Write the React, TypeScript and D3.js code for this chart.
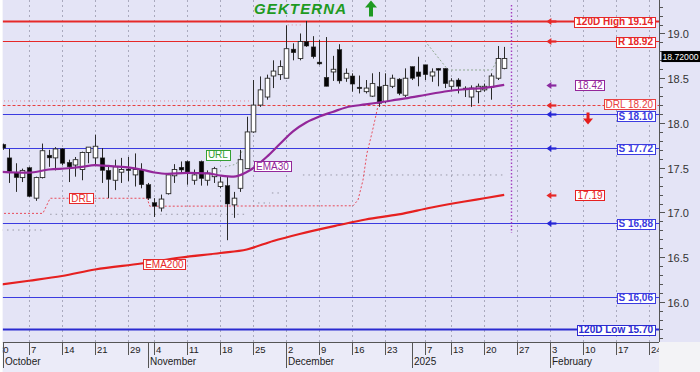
import React, { useEffect, useRef } from "react";
import * as d3 from "d3";

// ---------- data ----------
const weekTickIdx = [0, 5, 10, 15, 20, 24, 29, 34, 39, 44, 49, 54, 59, 65, 69, 74, 79, 84, 89, 94, 99];
const weekTickLabels = ["30", "7", "14", "21", "29", "4", "11", "18", "25", "2", "9", "16", "23", "7", "13", "20", "27", "3", "10", "17", "24"];
const monthStartIdx = [1, 23, 44, 63, 84];
const monthLabels = ["October", "November", "December", "2025", "February"];

const firstCandleIdx = 1;
const opens = [17.76, 17.61, 17.45, 17.39, 17.5, 17.16, 17.39, 17.64, 17.61, 17.71, 17.56, 17.53, 17.48, 17.67, 17.61, 17.61, 17.47, 17.36, 17.45, 17.485, 17.42, 17.475, 17.31, 17.11, 17.05, 17.21, 17.41, 17.505, 17.57, 17.36, 17.57, 17.36, 17.4, 17.29, 17.3, 17.085, 17.27, 17.49, 17.9, 18.2, 18.29, 18.525, 18.54, 18.5, 18.825, 18.72, 18.91, 18.85, 18.68, 18.51, 18.57, 18.82, 18.5, 18.525, 18.4, 18.35, 18.3, 18.405, 18.24, 18.41, 18.49, 18.31, 18.63, 18.57, 18.65, 18.525, 18.61, 18.61, 18.41, 18.48, 18.39, 18.29, 18.35, 18.37, 18.4, 18.5, 18.61];
const highs = [17.77, 17.71, 17.55, 17.49, 17.51, 17.4, 17.77, 17.7, 17.73, 17.72, 17.59, 17.62, 17.68, 17.73, 17.87, 17.72, 17.51, 17.59, 17.61, 17.62, 17.66, 17.55, 17.33, 17.16, 17.2, 17.44, 17.54, 17.57, 17.58, 17.48, 17.58, 17.47, 17.51, 17.4, 17.4, 17.23, 17.7, 18.07, 18.48, 18.52, 18.54, 18.7, 18.7, 19.09, 18.89, 19.0, 19.14, 18.97, 18.93, 18.96, 18.75, 18.88, 18.61, 18.555, 18.53, 18.48, 18.555, 18.57, 18.555, 18.54, 18.5, 18.61, 18.63, 18.74, 18.65, 18.61, 18.61, 18.61, 18.5, 18.5, 18.41, 18.42, 18.44, 18.44, 18.555, 18.86, 18.85];
const lows = [17.7, 17.33, 17.23, 17.34, 17.17, 17.13, 17.38, 17.51, 17.47, 17.53, 17.34, 17.4, 17.36, 17.55, 17.53, 17.33, 17.16, 17.25, 17.33, 17.35, 17.29, 17.27, 17.14, 16.95, 17.01, 17.2, 17.33, 17.44, 17.31, 17.31, 17.3, 17.3, 17.33, 17.27, 16.69, 16.94, 17.23, 17.49, 17.89, 18.18, 18.26, 18.39, 18.48, 18.5, 18.7, 18.7, 18.85, 18.72, 18.65, 18.41, 18.47, 18.44, 18.46, 18.35, 18.33, 18.33, 18.29, 18.18, 18.22, 18.39, 18.31, 18.29, 18.48, 18.41, 18.48, 18.46, 18.41, 18.39, 18.37, 18.33, 18.29, 18.18, 18.22, 18.35, 18.26, 18.48, 18.6];
const closes = [17.72, 17.46, 17.39, 17.47, 17.18, 17.39, 17.69, 17.61, 17.71, 17.55, 17.51, 17.59, 17.67, 17.73, 17.74, 17.47, 17.37, 17.51, 17.48, 17.48, 17.48, 17.31, 17.16, 17.07, 17.15, 17.42, 17.48, 17.475, 17.44, 17.42, 17.38, 17.44, 17.49, 17.34, 17.095, 17.16, 17.59, 17.9, 18.2, 18.37, 18.5, 18.58, 18.63, 18.83, 18.785, 18.91, 18.86, 18.74, 18.66, 18.41, 18.6, 18.47, 18.555, 18.435, 18.39, 18.39, 18.44, 18.22, 18.42, 18.5, 18.33, 18.5, 18.5, 18.52, 18.54, 18.57, 18.59, 18.44, 18.47, 18.41, 18.37, 18.39, 18.41, 18.41, 18.525, 18.72, 18.72];

const ema30Idx = [0, 3, 5, 8, 11, 13, 15, 17, 20, 22, 24, 26, 29, 32, 34, 36, 38, 39, 40, 41, 43, 45, 47, 49, 51, 53, 56, 59, 62, 65, 68, 71, 74, 77];
const ema30Val = [17.458, 17.447, 17.445, 17.48, 17.494, 17.51, 17.53, 17.52, 17.503, 17.48, 17.447, 17.432, 17.443, 17.438, 17.413, 17.4, 17.453, 17.497, 17.556, 17.62, 17.765, 17.907, 18.006, 18.073, 18.123, 18.173, 18.207, 18.24, 18.274, 18.313, 18.352, 18.377, 18.391, 18.425];

const ema200Idx = [0, 5, 10, 15, 22, 28, 34, 38, 42, 46, 52, 56, 61, 66, 71, 74, 77];
const ema200Val = [16.188, 16.237, 16.29, 16.363, 16.43, 16.497, 16.547, 16.587, 16.682, 16.76, 16.86, 16.922, 16.978, 17.056, 17.123, 17.159, 17.196];

const drlStepIdx = [0, 7.1, 8.2, 22.9, 23.3, 54.1, 54.85, 55.6, 56.2, 56.97, 57.4, 57.9];
const drlStepVal = [16.99, 16.99, 17.159, 17.159, 17.07, 17.075, 17.14, 17.36, 17.66, 17.89, 18.03, 18.2];

const trailIdx = [0, 7.1, NaN, 8.2, 38.2, NaN, 39.7, 41.5, NaN, 41.8, 43.3, NaN, 46.5, 77.3];
const trailVal = [16.804, 16.804, NaN, 16.98, 16.98, NaN, 17.106, 17.106, NaN, 17.218, 17.218, NaN, 17.419, 17.419];

const urlIdx = [65, 68.5, 75.15, 75.9];
const urlVal = [18.916, 18.592, 18.592, 18.7];
const urlNearIdx = [34.7, 36.4, 37.3];
const urlNearVal = [17.51, 17.54, 17.69];

const priorIdx = [0, 38.5, NaN, 44.2, 46.4];
const priorVal = [18.246, 18.246, NaN, 19.095, 19.095];

const levelValues = [19.14, 18.92, 18.2, 18.1, 17.72, 16.88, 16.06, 15.7];
const levelLabels = ["120D High 19.14", "R 18.92", "DRL 18.20", "S 18.10", "S 17.72", "S 16,88", "S 16,06", "120D Low 15.70"];
const levelKinds = ["high", "res", "drl", "sup", "sup", "sup", "sup", "low"];

const floatValues = [18.42, 17.19];
const floatLabels = ["18.42", "17.19"];
const floatKinds = ["ema30", "ema200"];

const arrowValues = [19.14, 18.92, 18.42, 18.2, 18.1, 17.72, 17.19, 16.88];
const arrowKinds = ["res", "res", "ema30", "res", "sup", "sup", "res", "sup"];

const annIdx = [39.1, 31.8, 11.1, 22.3];
const annVal = [17.517, 17.646, 17.159, 16.42];
const annText = ["EMA30", "URL", "DRL", "EMA200"];
const annKinds = ["ema30", "url", "res", "res"];

const lastPrice = 18.72;
const lastPriceLabel = "18.72000";
const todayIdx = 78;
const arrowIdx = 84;
const downArrowIdx = 89.7;
const downArrowVal = 18.05;
const titleText = "GEKTERNA";

// ---------- styles ----------
const COLORS: Record<string, string> = {
  res: "#e62828",
  high: "#e62828",
  drl: "#e84040",
  sup: "#3b3be0",
  low: "#2a2ad0",
  ema30: "#93279a",
  ema200: "#e62020",
  url: "#34a034",
};
const FONT = "'Liberation Sans', Arial, sans-serif";

export default function App() {
  const ref = useRef<SVGSVGElement>(null);
  useEffect(() => {
    const svg = d3.select(ref.current!);
    svg.selectAll("*").remove();
    const X0 = 2.5, X1 = 659, Y1 = 342;
    const xs = d3.scaleLinear().domain([0, 99]).range([-4, 649.4]);
    const ys = d3.scaleLinear().domain([15.553, 19.374]).range([Y1, 0]);

    svg.append("rect").attr("width", 700).attr("height", 372).attr("fill", "#f3f3f6");
    svg.append("rect").attr("x", X0).attr("y", 0).attr("width", 700 - X0).attr("height", Y1).attr("fill", "#e4e4f6");
    svg.append("rect").attr("x", X0).attr("y", Y1).attr("width", X1 - X0).attr("height", 372 - Y1).attr("fill", "#ebebf8");

    const defs = svg.append("defs");
    defs.append("clipPath").attr("id", "plotclip").append("rect").attr("x", X0).attr("y", 0).attr("width", X1 - X0).attr("height", Y1);
    defs.append("clipPath").attr("id", "axclip").append("rect").attr("x", X0).attr("y", Y1).attr("width", X1 - X0).attr("height", 372 - Y1);

    const plot = svg.append("g").attr("clip-path", "url(#plotclip)");

    // vertical gridlines
    weekTickIdx.forEach((i) => {
      const x = Math.round(xs(i)) + 0.5;
      plot.append("line").attr("x1", x).attr("x2", x).attr("y1", 0).attr("y2", Y1)
        .attr("stroke", "#a9a9bd").attr("stroke-width", 1).attr("stroke-dasharray", "2,3");
    });

    const mkLine = (curve: any) => d3.line<[number, number]>()
      .defined((d) => !isNaN(d[0]))
      .x((d) => xs(d[0])).y((d) => ys(d[1])).curve(curve);
    const zip = (a: number[], b: number[]) => a.map((v, k) => [v, b[k]] as [number, number]);

    // prior dotted lines
    plot.append("path").attr("d", mkLine(d3.curveLinear)(zip(priorIdx, priorVal))!).attr("fill", "none")
      .attr("stroke", "#e58a9a").attr("stroke-width", 1).attr("stroke-dasharray", "1,3");
    plot.append("path").attr("d", mkLine(d3.curveLinear)(zip(trailIdx, trailVal))!).attr("fill", "none")
      .attr("stroke", "#9a9aa8").attr("stroke-width", 1).attr("stroke-dasharray", "1.5,4");
    plot.append("path").attr("d", mkLine(d3.curveLinear)(zip(urlIdx, urlVal))!).attr("fill", "none")
      .attr("stroke", "#8fa890").attr("stroke-width", 1).attr("stroke-dasharray", "2,2");
    plot.append("path").attr("d", mkLine(d3.curveLinear)(zip(urlNearIdx, urlNearVal))!).attr("fill", "none")
      .attr("stroke", "#8fa890").attr("stroke-width", 1).attr("stroke-dasharray", "1.5,2.5");
    plot.append("path").attr("d", mkLine(d3.curveLinear)(zip(drlStepIdx, drlStepVal))!).attr("fill", "none")
      .attr("stroke", "#e84a5a").attr("stroke-width", 1).attr("stroke-dasharray", "2,2");

    // level lines
    levelValues.forEach((v, k) => {
      const kind = levelKinds[k];
      const y = Math.round(ys(v)) + 0.5;
      const ln = plot.append("line").attr("x1", X0).attr("x2", X1).attr("y1", y).attr("y2", y)
        .attr("stroke", COLORS[kind]).attr("stroke-width", kind === "high" || kind === "low" ? 2 : 1.2);
      if (kind === "drl") ln.attr("stroke-dasharray", "3,2");
    });

    // EMA200
    plot.append("path").attr("d", mkLine(d3.curveMonotoneX)(zip(ema200Idx, ema200Val))!).attr("fill", "none")
      .attr("stroke", COLORS.ema200).attr("stroke-width", 2.2);

    // candles
    const bw = 4.6;
    opens.forEach((o, k) => {
      const i = firstCandleIdx + k;
      const c = closes[k];
      const x = xs(i);
      const xc = Math.round(x) + 0.5;
      plot.append("line").attr("x1", xc).attr("x2", xc).attr("y1", ys(highs[k])).attr("y2", ys(lows[k]))
        .attr("stroke", "#2a2a2a").attr("stroke-width", 1);
      const top = ys(Math.max(o, c));
      const h = Math.max(1.5, Math.abs(ys(o) - ys(c)));
      const up = c >= o;
      plot.append("rect").attr("x", xc - bw / 2).attr("y", top).attr("width", bw).attr("height", h)
        .attr("fill", up ? "#ffffff" : "#050505").attr("stroke", "#2a2a2a").attr("stroke-width", up ? 0.9 : 0.5);
    });

    // EMA30
    plot.append("path").attr("d", mkLine(d3.curveMonotoneX)(zip(ema30Idx, ema30Val))!).attr("fill", "none")
      .attr("stroke", COLORS.ema30).attr("stroke-width", 2.2);

    // today dotted vertical
    const tx = Math.round(xs(todayIdx)) + 0.5;
    plot.append("line").attr("x1", tx).attr("x2", tx).attr("y1", 5).attr("y2", 233)
      .attr("stroke", "#a33fbf").attr("stroke-width", 1.4).attr("stroke-dasharray", "1.5,2");

    // label box helper
    const labelBox = (txt: string, xPos: number, yc: number, color: string, bold: boolean, anchor: "end" | "middle" | "start", fs = 10) => {
      const g = plot.append("g");
      const rect = g.append("rect");
      const t = g.append("text").text(txt).attr("font-family", FONT).attr("font-size", fs)
        .attr("font-weight", bold ? "bold" : "normal").attr("fill", color).attr("y", yc + fs * 0.35);
      const w = (t.node() as SVGTextElement).getComputedTextLength();
      const bwid = w + 4;
      let bx = xPos;
      if (anchor === "end") bx = xPos - bwid;
      if (anchor === "middle") bx = xPos - bwid / 2;
      t.attr("x", bx + 2);
      rect.attr("x", Math.round(bx) + 0.5).attr("y", Math.round(yc - 5) + 0.5).attr("width", Math.round(bwid)).attr("height", 10)
        .attr("fill", "#ffffff").attr("stroke", color).attr("stroke-width", 1);
    };

    levelValues.forEach((v, k) => {
      const kind = levelKinds[k];
      let yc = Math.round(ys(v)) + 0.5;
      if (kind === "drl") yc -= 1.5;
      if (k === 3) yc += 1.5;
      labelBox(levelLabels[k], 655, yc, COLORS[kind], kind !== "drl", "end");
    });
    floatValues.forEach((v, k) => {
      labelBox(floatLabels[k], 590, ys(v), COLORS[floatKinds[k]], false, "middle");
    });
    annText.forEach((txt, k) => {
      labelBox(txt, xs(annIdx[k]), ys(annVal[k]), COLORS[annKinds[k]], false, "start");
    });

    // small left arrows
    const ax = xs(arrowIdx);
    arrowValues.forEach((v, k) => {
      const y = Math.round(ys(v)) + 0.5;
      const col = arrowKinds[k] === "sup" ? "#2626d6" : arrowKinds[k] === "ema30" ? "#8a2aa0" : "#e62828";
      plot.append("path").attr("d", `M${ax - 4},${y} L${ax + 1},${y - 3.5} L${ax + 1},${y + 3.5} Z`).attr("fill", col);
      plot.append("line").attr("x1", ax).attr("x2", ax + 6).attr("y1", y).attr("y2", y).attr("stroke", col).attr("stroke-width", 2.2);
    });

    // red down arrow
    const dx = xs(downArrowIdx), dy = ys(downArrowVal);
    plot.append("line").attr("x1", dx).attr("x2", dx).attr("y1", dy - 6).attr("y2", dy + 1).attr("stroke", "#e41c1c").attr("stroke-width", 3);
    plot.append("path").attr("d", `M${dx - 5},${dy} L${dx + 5},${dy} L${dx},${dy + 6} Z`).attr("fill", "#e41c1c");

    // title
    plot.append("text").text(titleText).attr("x", 254).attr("y", 13.8).attr("font-family", FONT)
      .attr("font-size", 15).attr("font-weight", "bold").attr("font-style", "italic")
      .attr("fill", "#1f9a22").attr("textLength", 92).attr("lengthAdjust", "spacing");
    plot.append("path").attr("d", "M365,7.5 L371,0.5 L377,7.5 Z").attr("fill", "#1f9a22");
    plot.append("line").attr("x1", 371).attr("x2", 371).attr("y1", 6).attr("y2", 16.5).attr("stroke", "#1f9a22").attr("stroke-width", 4);

    // y axis
    const ya = svg.append("g");
    ya.append("line").attr("x1", X1 + 0.5).attr("x2", X1 + 0.5).attr("y1", 0).attr("y2", Y1).attr("stroke", "#555").attr("stroke-width", 1);
    const minor = d3.range(156, 194).map((d) => d / 10);
    minor.forEach((v) => {
      const y = Math.round(ys(v)) + 0.5;
      const major = Math.abs(v * 2 - Math.round(v * 2)) < 1e-6;
      ya.append("line").attr("x1", X1 + 0.5).attr("x2", X1 + (major ? 6 : 4)).attr("y1", y).attr("y2", y).attr("stroke", "#555");
      if (major) {
        ya.append("text").text(v.toFixed(1)).attr("x", 667.5).attr("y", y + 4).attr("font-family", FONT)
          .attr("font-size", 11).attr("fill", "#333");
      }
    });
    // last price tag
    const py = ys(lastPrice) - 2;
    ya.append("rect").attr("x", 661.5).attr("y", py - 5.5).attr("width", 38.5).attr("height", 11).attr("fill", "#000");
    ya.append("text").text(lastPriceLabel).attr("x", 662.5).attr("y", py + 3.5).attr("font-family", FONT)
      .attr("font-size", 9).attr("fill", "#fff").attr("textLength", 36).attr("lengthAdjust", "spacingAndGlyphs");

    // x axis
    const xa = svg.append("g").attr("clip-path", "url(#axclip)");
    xa.append("line").attr("x1", X0).attr("x2", X1).attr("y1", Y1 + 0.5).attr("y2", Y1 + 0.5).attr("stroke", "#555");
    weekTickIdx.forEach((i, k) => {
      const x = Math.round(xs(i)) + 0.5;
      xa.append("line").attr("x1", x).attr("x2", x).attr("y1", Y1).attr("y2", Y1 + 13).attr("stroke", "#555");
      xa.append("text").text(weekTickLabels[k]).attr("x", x + 1.5).attr("y", Y1 + 10.5).attr("font-family", FONT)
        .attr("font-size", 9.5).attr("fill", "#222");
    });
    monthStartIdx.forEach((i, k) => {
      const x = Math.round(xs(i)) + 0.5;
      xa.append("line").attr("x1", x).attr("x2", x).attr("y1", Y1).attr("y2", Y1 + 26).attr("stroke", "#555");
      xa.append("text").text(monthLabels[k]).attr("x", x + 1.5).attr("y", Y1 + 22.5).attr("font-family", FONT)
        .attr("font-size", 10).attr("fill", "#222");
    });
    // white left strip
    svg.append("rect").attr("x", 0).attr("y", 0).attr("width", X0).attr("height", 372).attr("fill", "#ffffff");
  }, []);
  return <svg ref={ref} width={700} height={372} style={{ position: "absolute", left: 0, top: 0, display: "block" }} />;
}
